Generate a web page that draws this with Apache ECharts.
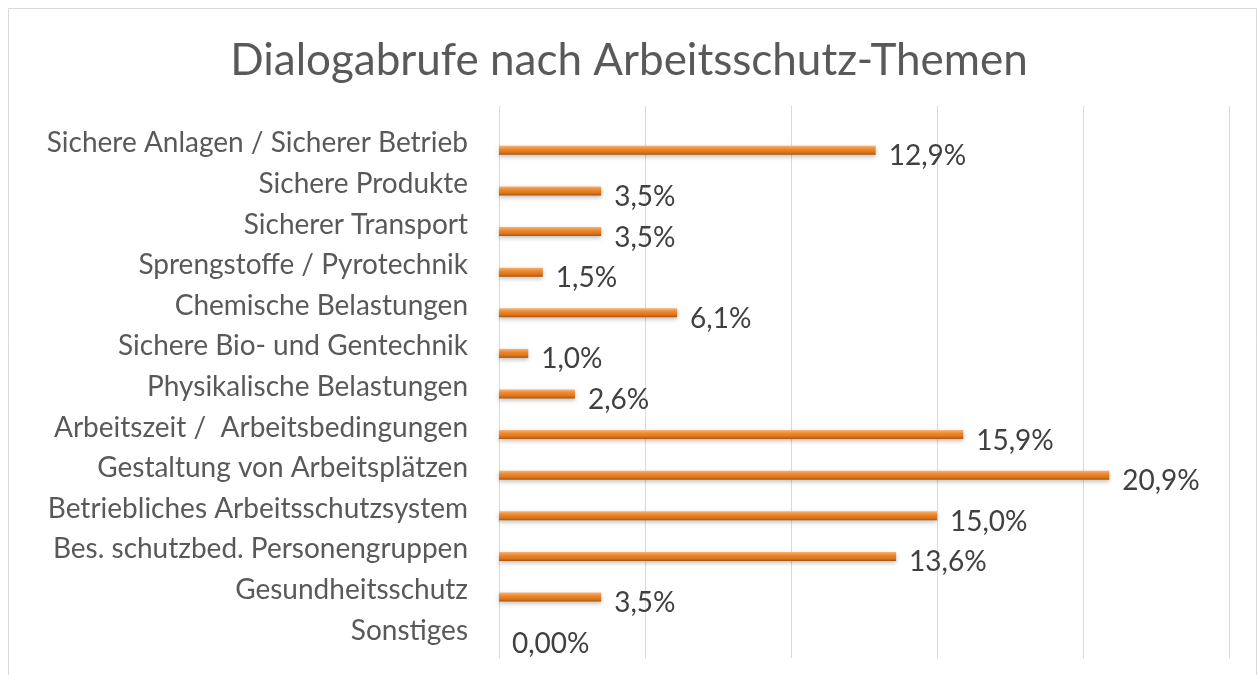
<!DOCTYPE html>
<html>
<head>
<meta charset="UTF-8">
<title>Dialogabrufe nach Arbeitsschutz-Themen</title>
<script src="https://cdn.jsdelivr.net/npm/echarts@6/dist/echarts.min.js"></script>
<style>
  html, body { margin: 0; padding: 0; background: #fff; }
  #chart { width: 1258px; height: 675px; }
</style>
</head>
<body>
<div id="chart"></div>
<script>
// Kategorien (von oben nach unten)
var categories = [
  'Sichere Anlagen / Sicherer Betrieb',
  'Sichere Produkte',
  'Sicherer Transport',
  'Sprengstoffe / Pyrotechnik',
  'Chemische Belastungen',
  'Sichere Bio- und Gentechnik',
  'Physikalische Belastungen',
  'Arbeitszeit /  Arbeitsbedingungen',
  'Gestaltung von Arbeitsplätzen',
  'Betriebliches Arbeitsschutzsystem',
  'Bes. schutzbed. Personengruppen',
  'Gesundheitsschutz',
  'Sonstiges'
];
// Anteile in %
var values = [12.9, 3.5, 3.5, 1.5, 6.1, 1.0, 2.6, 15.9, 20.9, 15.0, 13.6, 3.5, 0];
var valueLabels = ['12,9%', '3,5%', '3,5%', '1,5%', '6,1%', '1,0%', '2,6%',
  '15,9%', '20,9%', '15,0%', '13,6%', '3,5%', '0,00%'];

var chart = echarts.init(document.getElementById('chart'));

var option = {
  animation: false,
  backgroundColor: '#ffffff',
  textStyle: { fontFamily: 'Lato' },
  title: {
    text: 'Dialogabrufe nach Arbeitsschutz-Themen',
    left: 'center',
    top: 34,
    textStyle: { fontFamily: 'Lato', fontSize: 44, fontWeight: 'normal', color: '#595959' }
  },
  graphic: [{
    type: 'rect',
    shape: { x: 8.5, y: 8.5, width: 1248, height: 680 },
    style: { fill: 'none', stroke: '#d9d9d9', lineWidth: 1 }
  }],
  grid: [
    { left: 499, right: 29, top: 130, bottom: 17 },
    // nur für die Gitterlinien, die oben etwas weiter reichen
    { left: 499, right: 29, top: 106, bottom: 17 }
  ],
  xAxis: [{
    type: 'value',
    gridIndex: 0,
    min: 0,
    max: 25,
    interval: 5,
    axisLabel: { show: false },
    axisLine: { show: false },
    axisTick: { show: false },
    splitLine: { show: false }
  }, {
    type: 'value',
    gridIndex: 1,
    min: 0,
    max: 25,
    interval: 5,
    axisLabel: { show: false },
    axisLine: { show: false },
    axisTick: { show: false },
    splitLine: { lineStyle: { color: '#d9d9d9', width: 1 } }
  }],
  yAxis: [{
    type: 'category',
    gridIndex: 0,
    inverse: true,
    data: categories,
    axisLine: { show: false },
    axisTick: { show: false },
    axisLabel: {
      margin: 31,
      fontSize: 28,
      color: '#595959',
      fontFamily: 'Lato',
      verticalAlign: 'bottom',
      lineHeight: 14
    }
  }, {
    type: 'value',
    gridIndex: 1,
    show: false,
    splitLine: { show: false }
  }],
  series: [{
    type: 'bar',
    xAxisIndex: 0,
    yAxisIndex: 0,
    data: values,
    barWidth: 9,
    z: 3,
    itemStyle: {
      color: new echarts.graphic.LinearGradient(0, 0, 0, 1, [
        { offset: 0, color: '#f6b37a' },
        { offset: 0.35, color: '#ee8a2c' },
        { offset: 0.75, color: '#d9731a' },
        { offset: 1, color: '#a9530c' }
      ]),
      shadowColor: 'rgba(0,0,0,0.25)',
      shadowBlur: 4,
      shadowOffsetY: 2
    },
    label: {
      show: true,
      position: 'right',
      distance: 13,
      offset: [0, 6],
      fontSize: 28,
      color: '#404040',
      fontFamily: 'Lato',
      formatter: function (p) { return valueLabels[p.dataIndex]; }
    }
  }]
};

chart.setOption(option);
</script>
</body>
</html>
